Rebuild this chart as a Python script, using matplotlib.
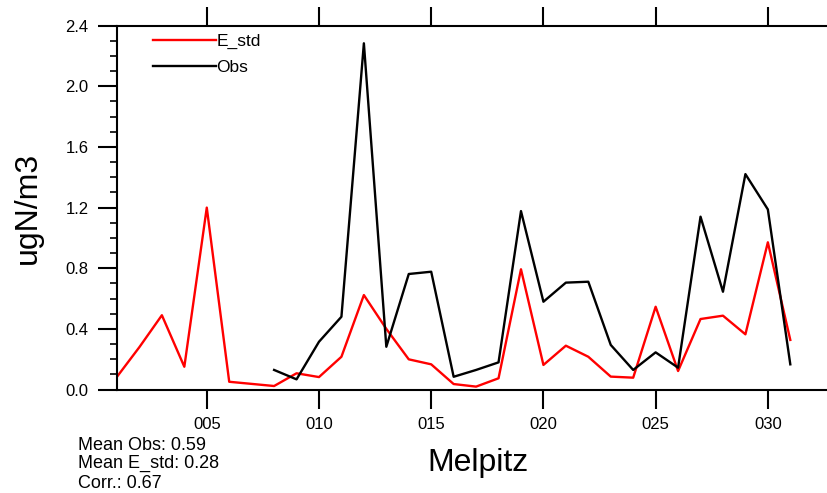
import numpy as np
import matplotlib
matplotlib.use("Agg")
import matplotlib.pyplot as plt

plt.rcParams['font.family'] = ['Liberation Sans', 'DejaVu Sans']

# daily values, days 1..31
days = np.arange(1, 32)
e_std = [0.084, 0.28, 0.49, 0.15, 1.20, 0.051, 0.037, 0.023, 0.107, 0.082,
         0.216, 0.623, 0.40, 0.199, 0.166, 0.036, 0.019, 0.074, 0.793, 0.162,
         0.289, 0.216, 0.085, 0.078, 0.546, 0.122, 0.465, 0.487, 0.364, 0.971,
         0.327]
obs = [np.nan, np.nan, np.nan, np.nan, np.nan, np.nan, np.nan, 0.129, 0.067, 0.315,
       0.48, 2.284, 0.282, 0.762, 0.777, 0.084, 0.129, 0.179, 1.177, 0.579,
       0.705, 0.711, 0.294, 0.129, 0.245, 0.144, 1.14, 0.645, 1.421, 1.188,
       0.166]
xticks = [5, 10, 15, 20, 25, 30]
xticklabels = ["005", "010", "015", "020", "025", "030"]
stats = ["Mean Obs: 0.59", "Mean E_std: 0.28", "Corr.: 0.67"]

fig = plt.figure(figsize=(8.28, 4.93), dpi=100)
W, H = 828.0, 493.0
ax = fig.add_axes([117/W, 1-389.5/H, (839-117)/W, (389.5-25.7)/H])

ax.plot(days, e_std, color='red', lw=1.7, label="E_std")
ax.plot(days, obs, color='black', lw=1.7, label="Obs")

ax.set_xlim(1, 33.17)
ax.set_ylim(0, 2.4)
ax.set_xticks(xticks)
ax.set_xticklabels(xticklabels)
ax.set_yticks(np.arange(0, 2.41, 0.4))
ax.set_yticklabels(["%.1f" % v for v in np.arange(0, 2.41, 0.4)])
ax.set_yticks(np.arange(0, 2.41, 0.1), minor=True)

for s in ax.spines.values():
    s.set_linewidth(1.5)
ax.tick_params(axis='x', which='major', direction='out', length=13.5, width=1.5,
               top=True, labeltop=False, labelsize=12, pad=6.5)
ax.tick_params(axis='y', which='major', direction='out', length=13.5, width=1.5,
               right=False, labelsize=12, pad=7)
ax.tick_params(axis='y', which='minor', direction='out', length=5, width=1.2)

ax.set_xlabel("Melpitz", fontsize=23, va='center')
ax.xaxis.set_label_coords(0.5, (389.5-463)/363.8)
ax.set_ylabel("ugN/m3", fontsize=23, va='center')
ax.yaxis.set_label_coords((28-117)/722.0, 0.5)

ax.legend(loc='upper left', bbox_to_anchor=(153/W, 1-34/H),
          bbox_transform=fig.transFigure, frameon=False, fontsize=12.5,
          handlelength=3.65, handletextpad=0.0, borderpad=0, borderaxespad=0,
          labelspacing=0.6)

for txt, yc in zip(stats, [445, 463, 484]):
    fig.text(78/W, 1-yc/H, txt, fontsize=13, ha='left', va='center')

fig.savefig("out.png", dpi=100)
